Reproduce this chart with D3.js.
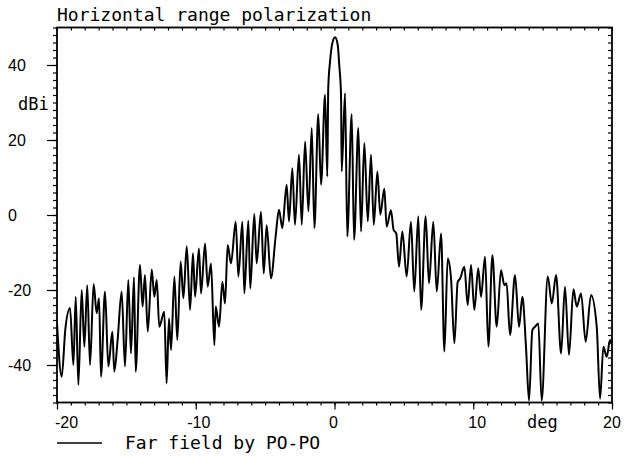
<!DOCTYPE html>
<html>
<head>
<meta charset="utf-8">
<script src="https://cdn.jsdelivr.net/npm/d3@7"></script>
<style>
  body { margin: 0; background: #fff; }
  svg { display: block; }
</style>
</head>
<body>
<div id="chart"></div>
<script>
// far field pattern (deg, dBi)
const angles = [
  -20.00, -19.66, -19.40, -19.06, -18.82, -18.65, -18.46, -18.22, -18.03, -17.82,
  -17.62, -17.36, -17.14, -16.97, -16.83, -16.54, -16.30, -16.01, -15.87, -15.63,
  -15.34, -15.10, -14.86, -14.67, -14.45, -14.33, -14.02, -13.83, -13.66, -13.46,
  -13.17, -12.99, -12.81, -12.63, -12.27, -12.10, -11.93, -11.78, -11.54, -11.33,
  -11.09, -10.89, -10.65, -10.41, -10.20, -10.05, -9.77, -9.62, -9.33, -9.14,
  -8.90, -8.66, -8.56, -8.32, -8.08, -7.89, -7.70, -7.46, -7.12, -6.93,
  -6.64, -6.50, -6.21, -6.07, -5.78, -5.61, -5.30, -5.10, -4.89, -4.58,
  -4.25, -4.00, -3.76, -3.45, -3.28, -3.04, -2.85, -2.56, -2.36, -2.12,
  -1.88, -1.64, -1.45, -1.17, -0.97, -0.68, -0.52, -0.45, -0.32, -0.15,
  0.04, 0.23, 0.34, 0.47, 0.52, 0.76, 0.92, 1.24, 1.41, 1.72,
  1.91, 2.15, 2.40, 2.63, 2.83, 3.09, 3.30, 3.59, 3.76, 4.07,
  4.26, 4.45, 4.65, 4.89, 5.20, 5.51, 5.75, 6.04, 6.24, 6.57,
  6.81, 7.12, 7.37, 7.68, 7.92, 8.16, 8.40, 8.64, 8.88, 9.05,
  9.36, 9.60, 9.84, 10.08, 10.36, 10.56, 10.85, 11.09, 11.38, 11.69,
  12.00, 12.24, 12.40, 12.65, 13.01, 13.30, 13.54, 13.80, 14.02, 14.26,
  14.45, 14.69, 14.93, 15.37, 15.66, 15.97, 16.33, 16.61, 16.90, 17.22,
  17.46, 17.77, 18.10, 18.49, 18.90, 19.14, 19.38, 19.62, 19.86, 20.00
];
const gains = [
  -28.8, -43.1, -30.5, -24.8, -40.0, -21.8, -45.3, -20.0, -35.1, -18.7,
  -40.0, -18.4, -26.2, -22.2, -43.1, -20.4, -40.4, -31.1, -41.8, -33.3,
  -20.4, -40.4, -17.3, -36.9, -16.6, -41.8, -13.3, -24.4, -16.0, -31.1,
  -14.5, -21.8, -17.3, -29.8, -25.8, -44.9, -27.6, -36.0, -16.4, -33.3,
  -12.4, -22.2, -8.3, -25.3, -10.2, -21.8, -8.9, -20.9, -7.6, -19.1,
  -12.9, -34.7, -24.4, -29.8, -17.8, -23.6, -8.0, -12.9, -1.8, -16.4,
  -1.8, -20.9, -1.5, -19.6, 0.3, -12.9, 0.9, -15.6, -2.7, -16.9,
  -6.0, 1.4, -3.5, 8.1, -1.7, 12.5, -2.6, 16.1, -2.6, 19.6,
  1.0, 23.2, -3.5, 26.9, 8.1, 32.1, 10.3, 33.9, 41.0, 45.9,
  47.4, 45.4, 40.1, 32.1, 11.6, 32.5, -5.7, 26.9, -6.6, 23.2,
  -4.4, 19.2, -1.7, 16.1, -2.6, 11.6, 0.1, 7.0, -3.1, 1.3,
  -4.0, -4.9, -13.8, -4.4, -16.4, -1.8, -20.4, -0.3, -25.3, -0.3,
  -18.2, -1.8, -20.4, -4.9, -36.4, -11.6, -17.0, -34.2, -17.8, -17.0,
  -13.8, -24.0, -13.3, -25.3, -14.2, -21.8, -11.1, -35.1, -10.7, -29.8,
  -14.7, -18.7, -18.2, -32.0, -16.0, -29.8, -21.8, -35.1, -49.5, -30.7,
  -29.8, -28.9, -49.5, -16.4, -23.6, -16.0, -36.9, -19.1, -37.3, -19.8,
  -24.4, -20.9, -33.8, -21.3, -29.8, -49.0, -35.1, -37.8, -33.3, -34.5
];
const xTickValues = [-20, -10, 0, 10, 20];
const yTickValues = [-40, -20, 0, 20, 40];
const titleText = 'Horizontal range polarization';
const legendText = 'Far field by PO-PO';

const pattern = angles.map((a, i) => ({ angle: a, gain: gains[i] }));

const svgWidth = 624;
const svgHeight = 461;
const margin = { top: 27.5, right: 12, bottom: 58.5, left: 57 };
const width = svgWidth - margin.left - margin.right;
const height = svgHeight - margin.top - margin.bottom;

const monoFont = '"DejaVu Sans Mono", "Liberation Mono", monospace';
const sansFont = '"Liberation Sans", Arial, sans-serif';

// small nudges so the x labels sit where the plotter put them
const xLabelShift = { '-20': -2, '-10': 3, '0': -1, '10': 4, '20': 0 };

const svg = d3.select('#chart')
  .append('svg')
  .attr('width', svgWidth)
  .attr('height', svgHeight);

const bounds = svg.append('g')
  .attr('transform', `translate(${margin.left}, ${margin.top})`);

const xScale = d3.scaleLinear()
  .domain([-20, 20])
  .range([0, width]);

const yScale = d3.scaleLinear()
  .domain([-50, 50])
  .range([height, 0]);

const tidy = g => {
  g.select('.domain').remove();
  g.selectAll('line').attr('stroke', '#000').attr('stroke-width', 1.2);
};

// ticks: outward on bottom/left, inward on top/right
bounds.append('g')
  .attr('transform', `translate(0, ${height})`)
  .call(d3.axisBottom(xScale).tickValues(d3.range(-20, 21, 1)).tickSize(3).tickFormat(''))
  .call(tidy);
bounds.append('g')
  .attr('transform', `translate(0, ${height})`)
  .call(d3.axisBottom(xScale).tickValues(xTickValues).tickSize(7).tickFormat(''))
  .call(tidy);
bounds.append('g')
  .call(d3.axisBottom(xScale).tickValues(d3.range(-20, 21, 1)).tickSize(3).tickFormat(''))
  .call(tidy);
bounds.append('g')
  .call(d3.axisLeft(yScale).tickValues(d3.range(-50, 51, 2)).tickSize(4).tickFormat(''))
  .call(tidy);
bounds.append('g')
  .call(d3.axisLeft(yScale).tickValues(yTickValues).tickSize(10).tickFormat(''))
  .call(tidy);
bounds.append('g')
  .attr('transform', `translate(${width}, 0)`)
  .call(d3.axisLeft(yScale).tickValues(d3.range(-50, 51, 2)).tickSize(4).tickFormat(''))
  .call(tidy);

// frame
bounds.append('rect')
  .attr('width', width)
  .attr('height', height)
  .attr('fill', 'none')
  .attr('stroke', '#000')
  .attr('stroke-width', 1.8);

// tick labels
svg.selectAll('.ylabel')
  .data(yTickValues)
  .enter()
  .append('text')
  .attr('class', 'ylabel')
  .attr('x', 8)
  .attr('y', d => margin.top + yScale(d) + 6)
  .style('font-family', sansFont)
  .style('font-size', '16px')
  .text(d => d === 0 ? '0' : d < 0 ? '-' + Math.abs(d) : d);

svg.selectAll('.xlabel')
  .data(xTickValues)
  .enter()
  .append('text')
  .attr('class', 'xlabel')
  .attr('x', d => margin.left + xScale(d) + xLabelShift[d])
  .attr('y', 428)
  .attr('text-anchor', d => d === -20 ? 'start' : 'middle')
  .style('font-family', sansFont)
  .style('font-size', '16px')
  .text(d => d < 0 ? '-' + Math.abs(d) : d);

svg.append('text')
  .attr('x', 18)
  .attr('y', 110)
  .style('font-family', monoFont)
  .style('font-size', '17px')
  .text('dBi');

svg.append('text')
  .attr('x', 527)
  .attr('y', 428)
  .style('font-family', monoFont)
  .style('font-size', '17px')
  .text('deg');

svg.append('text')
  .attr('x', margin.left)
  .attr('y', 21)
  .style('font-family', monoFont)
  .style('font-size', '18px')
  .text(titleText);

// the pattern
bounds.append('clipPath')
  .attr('id', 'plot-clip')
  .append('rect')
  .attr('width', width)
  .attr('height', height);

const lineGenerator = d3.line()
  .x(d => xScale(d.angle))
  .y(d => yScale(d.gain))
  .curve(d3.curveMonotoneX);

bounds.append('path')
  .datum(pattern)
  .attr('clip-path', 'url(#plot-clip)')
  .attr('d', lineGenerator)
  .attr('fill', 'none')
  .attr('stroke', '#000')
  .attr('stroke-width', 2)
  .attr('stroke-linejoin', 'round');

// legend
svg.append('line')
  .attr('x1', 57)
  .attr('x2', 102)
  .attr('y1', 443)
  .attr('y2', 443)
  .attr('stroke', '#000')
  .attr('stroke-width', 1.6);

svg.append('text')
  .attr('x', 125)
  .attr('y', 449)
  .style('font-family', monoFont)
  .style('font-size', '18px')
  .text(legendText);
</script>
</body>
</html>
